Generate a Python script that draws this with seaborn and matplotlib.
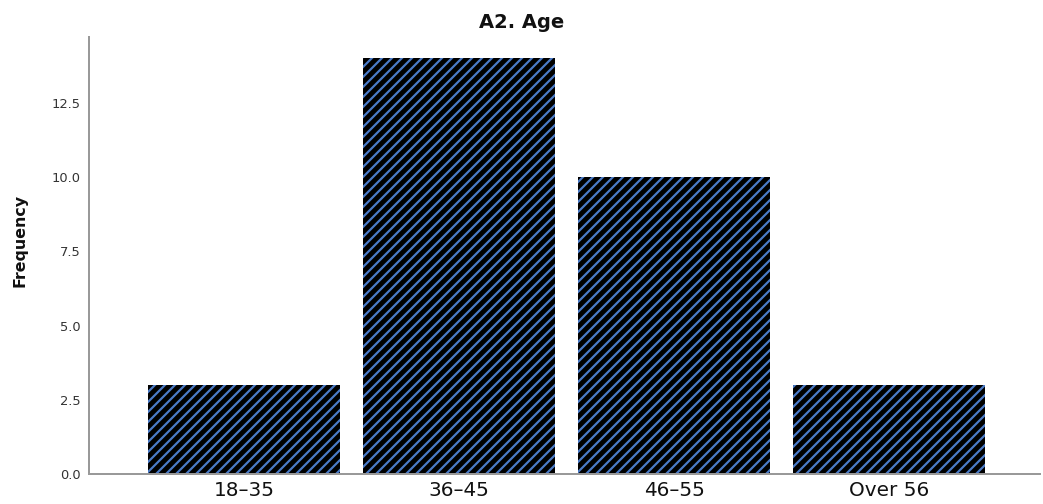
#bar chart of age groups, hatched bars
import matplotlib
matplotlib.use('Agg')
import matplotlib.pyplot as plt
import seaborn as sns
import pandas as pd

age_groups = ['18–35', '36–45', '46–55', 'Over 56']
frequency = [3, 14, 10, 3]

df = pd.DataFrame({'age': age_groups, 'freq': frequency})

sns.set_style('white')
plt.rcParams['font.family'] = ['DejaVu Sans']
plt.rcParams['hatch.linewidth'] = 1.3

fig = plt.figure(figsize=(1043 / 120, 504 / 120), dpi=120)
ax = fig.add_axes([89 / 1043, 30 / 504, (1040 - 89) / 1043, (474 - 37) / 504])

sns.barplot(data=df, x='age', y='freq', ax=ax, color='black', saturation=1,
            width=0.893, edgecolor='#4a7bc8', linewidth=0)
#denser hatch to match the thin stripes
for p in ax.patches:
    p.set_hatch('////')

ax.set_xlim(-0.72, 3.70)
ax.set_ylim(0, 14.72)
ax.set_yticks([0, 2.5, 5, 7.5, 10, 12.5])
ax.set_yticklabels(['0.0', '2.5', '5.0', '7.5', '10.0', '12.5'])
ax.tick_params(axis='y', length=0, pad=5, labelsize=7.8, labelcolor='#333333')
ax.tick_params(axis='x', length=0, pad=4, labelsize=12, labelcolor='#111111')
ax.set_xlabel('')
ax.set_ylabel('')

for s in ['top', 'right']:
    ax.spines[s].set_visible(False)
for s in ['left', 'bottom']:
    ax.spines[s].set_color('#999999')
    ax.spines[s].set_linewidth(1.2)

fig.text(0.5, 1 - 22 / 504, 'A2. Age', ha='center', va='center',
         fontsize=11.7, fontweight='bold', color='#111111')
fig.text(20 / 1043, 1 - 240 / 504, 'Frequency', ha='center', va='center',
         rotation=90, fontsize=9.5, fontweight='bold',
         family=['Liberation Sans Narrow', 'DejaVu Sans'], color='#111111')

fig.savefig('out.png', dpi=120)
